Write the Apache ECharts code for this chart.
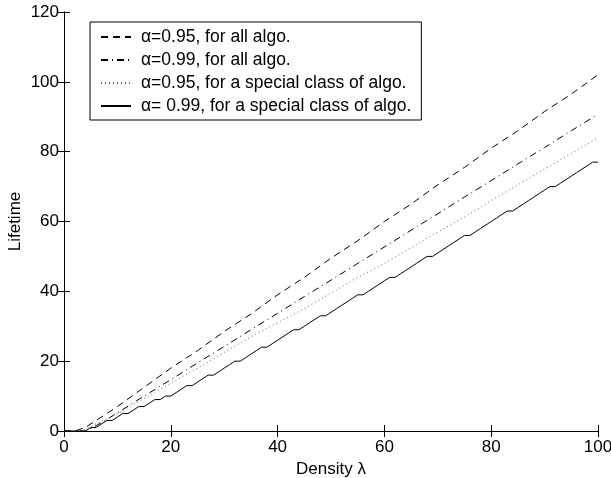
<!DOCTYPE html>
<html>
<head>
<meta charset="utf-8">
<script src="https://cdn.jsdelivr.net/npm/echarts@6/dist/echarts.min.js"></script>
<style>
  html, body { margin: 0; padding: 0; background: #fff; }
  #eChart { width: 611px; height: 478px; }
</style>
</head>
<body>
<div id="eChart"></div>
<script>
// densities for the solid (stepwise) curve, one per unit
const densityFine = [
  0, 1, 2, 3, 4, 5, 6, 7, 8, 9, 10, 11, 12, 13, 14, 15, 16, 17, 18, 19, 20,
  21, 22, 23, 24, 25, 26, 27, 28, 29, 30, 31, 32, 33, 34, 35, 36, 37, 38, 39, 40,
  41, 42, 43, 44, 45, 46, 47, 48, 49, 50, 51, 52, 53, 54, 55, 56, 57, 58, 59, 60,
  61, 62, 63, 64, 65, 66, 67, 68, 69, 70, 71, 72, 73, 74, 75, 76, 77, 78, 79, 80,
  81, 82, 83, 84, 85, 86, 87, 88, 89, 90, 91, 92, 93, 94, 95, 96, 97, 98, 99, 100,
];
const densityCoarse = [0, 2, 4, 6, 8, 10, 15, 20, 25, 30, 35, 40, 45, 50, 55, 60, 65, 70, 75, 80, 85, 90, 95, 100];

const lifeAll95 = [0, 0, 1, 3, 5, 7, 12.5, 18, 23, 28.5, 33.5, 39, 44, 49.5, 54.5, 60, 65, 70.5, 75.5, 81, 86, 91.5, 96.5, 102];
const lifeAll99 = [0, 0, 0, 1.5, 3.3, 5.2, 10, 14.7, 19.5, 24.2, 29, 33.7, 38.5, 43.2, 48, 52.7, 57.5, 62.2, 67, 71.7, 76.5, 81.2, 86, 90.7];
const lifeSpecial95 = [0, 0, 0.5, 2, 3.5, 5, 9.3, 13.7, 18, 22.5, 27, 31, 35, 39.5, 44, 48, 52.5, 57, 61.3, 66, 70.5, 75, 79.5, 84];
const lifeSpecial99 = [
  0, 0, 0, 0, 0, 1, 1, 2, 3, 3, 4, 5, 5, 6, 7, 7, 8, 9, 9, 10, 10,
  11, 12, 13, 13, 14, 15, 16, 16, 17, 18, 19, 20, 20, 21, 22, 23, 24, 24, 25, 26,
  27, 28, 29, 29, 30, 31, 32, 33, 33, 34, 35, 36, 37, 38, 39, 39, 40, 41, 42, 43,
  44, 44, 45, 46, 47, 48, 49, 50, 50, 51, 52, 53, 54, 55, 56, 56, 57, 58, 59, 60,
  61, 62, 63, 63, 64, 65, 66, 67, 68, 69, 70, 70, 71, 72, 73, 74, 75, 76, 77, 77,
];

const seriesNames = [
  "\u03b1=0.95, for all algo.",
  "\u03b1=0.99, for all algo.",
  "\u03b1=0.95, for a special class of algo.",
  "\u03b1= 0.99, for a special class of algo.",
];

const FONT = "'Liberation Sans', Arial, Helvetica, sans-serif";

function zip(xs, ys) {
  return xs.map((x, i) => [x, ys[i]]);
}

function makeSerie(name, data, type, color) {
  return {
    name: name,
    type: "line",
    data: data,
    symbol: "none",
    showSymbol: false,
    animation: false,
    lineStyle: { color: color, width: 1, type: type },
    itemStyle: { color: color },
  };
}

const axisCommon = {
  axisLine: { show: true, lineStyle: { color: "#000", width: 1 } },
  axisTick: { show: true, inside: true, length: 6, lineStyle: { color: "#000" } },
  splitLine: { show: false },
};

const option = {
  backgroundColor: "#fff",
  animation: false,
  grid: { left: 64, right: 13, top: 12, bottom: 47, containLabel: false, outerBoundsMode: "none" },
  xAxis: [
    {
      type: "value",
      min: 0,
      max: 100,
      interval: 20,
      position: "bottom",
      name: "Density \u03bb",
      nameLocation: "middle",
      nameGap: 25,
      nameTextStyle: { color: "#000", fontSize: 17, fontFamily: FONT },
      axisLabel: { color: "#000", fontSize: 17, fontFamily: FONT, margin: 8 },
      ...axisCommon,
    },
    {
      type: "value",
      min: 0,
      max: 100,
      interval: 20,
      position: "top",
      axisLabel: { show: false },
      ...axisCommon,
    },
  ],
  yAxis: [
    {
      type: "value",
      min: 0,
      max: 120,
      interval: 20,
      position: "left",
      name: "Lifetime",
      nameLocation: "middle",
      nameGap: 40,
      nameMoveOverlap: false,
      nameTextStyle: { color: "#000", fontSize: 17, fontFamily: FONT },
      axisLabel: { color: "#000", fontSize: 17, fontFamily: FONT, margin: 5 },
      ...axisCommon,
    },
    {
      type: "value",
      min: 0,
      max: 120,
      interval: 20,
      position: "right",
      axisLabel: { show: false },
      ...axisCommon,
    },
  ],
  legend: {
    orient: "vertical",
    left: 90,
    top: 22,
    padding: [6, 10, 5, 10],
    itemGap: 5,
    itemWidth: 30,
    itemHeight: 14,
    borderColor: "#000",
    borderWidth: 1,
    backgroundColor: "#fff",
    itemStyle: { opacity: 0 },
    textStyle: { color: "#000", fontSize: 17.5, fontFamily: FONT, padding: [0, 0, 0, 5] },
    data: seriesNames,
  },
  series: [
    makeSerie(seriesNames[0], zip(densityCoarse, lifeAll95), [7, 5], "#000"),
    makeSerie(seriesNames[1], zip(densityCoarse, lifeAll99), [7, 4, 1, 4], "#000"),
    makeSerie(seriesNames[2], zip(densityCoarse, lifeSpecial95), [1, 3], "#666"),
    makeSerie(seriesNames[3], zip(densityFine, lifeSpecial99), "solid", "#000"),
  ],
};

const myChart = echarts.init(document.getElementById("eChart"), null, {
  renderer: "canvas",
});
myChart.setOption(option);
</script>
</body>
</html>
